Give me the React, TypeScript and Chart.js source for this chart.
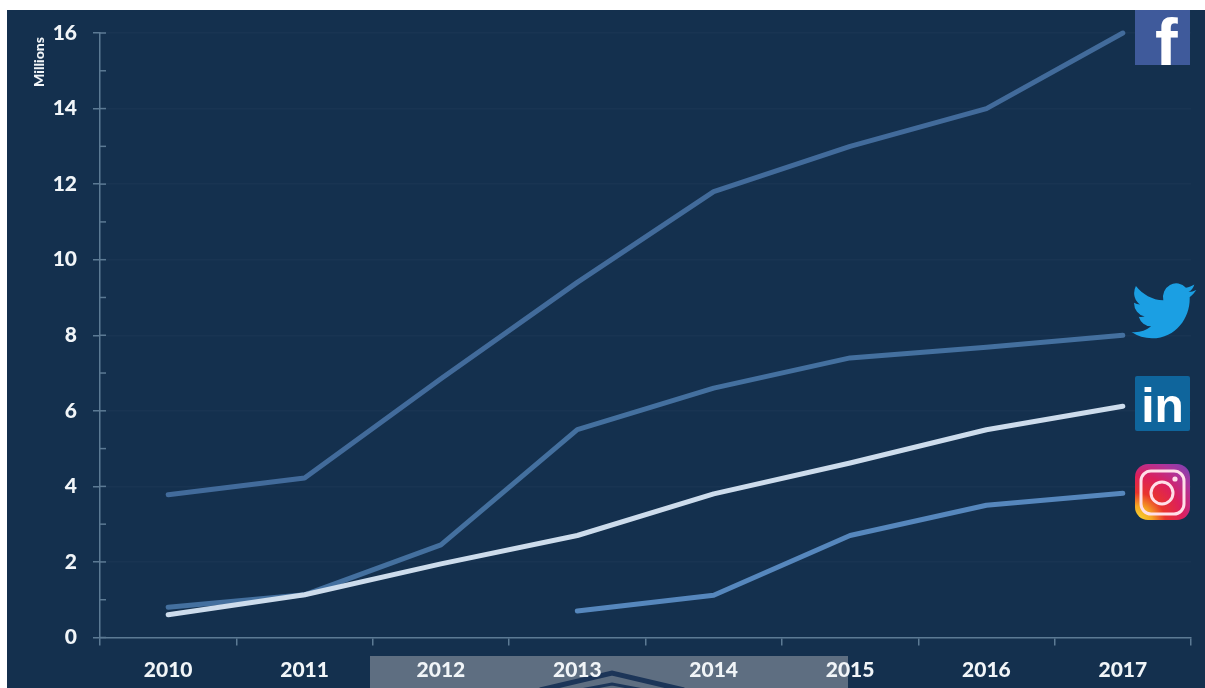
import React, { useEffect, useRef } from "react";
import { Chart, registerables } from "chart.js";

Chart.register(...registerables);

const years = ["2010", "2011", "2012", "2013", "2014", "2015", "2016", "2017"];
const facebook = [3.78, 4.22, 6.85, 9.4, 11.8, 13, 14, 16];
const twitter = [0.8, 1.13, 2.45, 5.5, 6.6, 7.4, 7.68, 8];
const linkedin = [0.6, 1.13, 1.95, 2.7, 3.8, 4.62, 5.5, 6.12];
const instagram = [null, null, null, 0.7, 1.12, 2.7, 3.5, 3.82];

const NAVY = "#14304e";
const AXIS = "#5c7a94";
const LABEL = "#f1f5f8";
const LABEL_FONT = "Lato";
const BIRD =
  "M23.953 4.57a10 10 0 01-2.825.775 4.958 4.958 0 002.163-2.723c-.951.555-2.005.959-3.127 1.184a4.92 4.92 0 00-8.384 4.482C7.69 8.095 4.067 6.13 1.64 3.162a4.822 4.822 0 00-.666 2.475c0 1.71.87 3.213 2.188 4.096a4.904 4.904 0 01-2.228-.616v.06a4.923 4.923 0 003.946 4.827 4.996 4.996 0 01-2.212.085 4.936 4.936 0 004.604 3.417 9.867 9.867 0 01-6.102 2.105c-.39 0-.779-.023-1.17-.067a13.995 13.995 0 007.557 2.209c9.053 0 13.998-7.496 13.998-13.985 0-.21 0-.42-.015-.63A9.935 9.935 0 0024 4.59z";

const CANVAS_X = 7;
const CANVAS_Y = 10;

function roundedRect(ctx: CanvasRenderingContext2D, x: number, y: number, w: number, h: number, r: number) {
  ctx.beginPath();
  ctx.roundRect(x, y, w, h, r);
}

// Backdrop: navy panel plus the lighter banner with chevrons along the bottom edge.
const backdrop = {
  id: "backdrop",
  beforeDraw(chart: Chart) {
    const ctx = chart.ctx;
    ctx.save();
    ctx.fillStyle = NAVY;
    ctx.fillRect(0, 0, chart.width, chart.height);
    ctx.translate(-CANVAS_X, -CANVAS_Y);
    ctx.fillStyle = "#5e6e81";
    ctx.fillRect(370, 656, 478, 32);
    ctx.strokeStyle = "#1c3558";
    ctx.lineWidth = 5;
    ctx.beginPath();
    ctx.moveTo(540, 690);
    ctx.lineTo(612, 673);
    ctx.lineTo(684, 690);
    ctx.stroke();
    ctx.lineWidth = 3;
    ctx.beginPath();
    ctx.moveTo(570, 692);
    ctx.lineTo(612, 684);
    ctx.lineTo(654, 692);
    ctx.stroke();
    ctx.restore();
  },
};

// Short tick stubs on the inner side of the value axis, and the unit caption beside it.
const valueAxisExtras = {
  id: "valueAxisExtras",
  afterDraw(chart: Chart) {
    const ctx = chart.ctx;
    const y = chart.scales.y;
    ctx.save();
    ctx.strokeStyle = AXIS;
    ctx.lineWidth = 1.5;
    y.ticks.forEach((t: { value: number }) => {
      const py = y.getPixelForValue(t.value);
      ctx.beginPath();
      ctx.moveTo(y.right, py);
      ctx.lineTo(y.right + 6, py);
      ctx.stroke();
    });
    ctx.translate(39.5 - CANVAS_X, 62 - CANVAS_Y);
    ctx.rotate(-Math.PI / 2);
    ctx.fillStyle = LABEL;
    ctx.font = `900 14px ${LABEL_FONT}`;
    ctx.textAlign = "center";
    ctx.textBaseline = "middle";
    ctx.fillText("Millions", 0, 0);
    ctx.restore();
  },
};

// Network logos at the right-hand end of each line.
const logos = {
  id: "logos",
  afterDraw(chart: Chart) {
    const ctx = chart.ctx;
    ctx.save();
    ctx.translate(-CANVAS_X, -CANVAS_Y);

    ctx.fillStyle = "#3f5a9b";
    ctx.fillRect(1135, 10, 55, 55);
    ctx.save();
    ctx.beginPath();
    ctx.rect(1135, 10, 55, 55);
    ctx.clip();
    ctx.fillStyle = "#ffffff";
    ctx.font = "bold 68px 'Liberation Sans'";
    ctx.textAlign = "left";
    ctx.textBaseline = "alphabetic";
    ctx.fillText("f", 1155, 67);
    ctx.restore();

    ctx.save();
    ctx.translate(1131.5, 277);
    ctx.scale(2.7, 2.82);
    ctx.fillStyle = "#1b9fe3";
    ctx.fill(new Path2D(BIRD));
    ctx.restore();

    ctx.fillStyle = "#0f659c";
    roundedRect(ctx, 1135, 376, 55, 55, 2);
    ctx.fill();
    ctx.fillStyle = "#ffffff";
    ctx.font = "bold 48px 'Liberation Sans'";
    ctx.textAlign = "center";
    ctx.fillText("in", 1162.5, 422);

    const glow = ctx.createRadialGradient(1136, 522, 3, 1136, 522, 76);
    glow.addColorStop(0, "#f8d632");
    glow.addColorStop(0.18, "#f5a623");
    glow.addColorStop(0.36, "#e9342c");
    glow.addColorStop(0.6, "#dc1f5c");
    glow.addColorStop(0.82, "#b0349a");
    glow.addColorStop(1, "#8040b0");
    ctx.fillStyle = glow;
    roundedRect(ctx, 1135, 464, 55, 56, 13);
    ctx.fill();
    ctx.strokeStyle = "#ffdfe8";
    ctx.lineWidth = 3;
    roundedRect(ctx, 1141, 471, 43, 43, 10);
    ctx.stroke();
    ctx.beginPath();
    ctx.arc(1162, 493, 11, 0, Math.PI * 2);
    ctx.stroke();
    ctx.fillStyle = "#ffdfe8";
    ctx.beginPath();
    ctx.arc(1175, 479, 2.6, 0, Math.PI * 2);
    ctx.fill();

    ctx.restore();
  },
};

function lineSet(label: string, data: (number | null)[], color: string, width: number) {
  return {
    label,
    data,
    borderColor: color,
    backgroundColor: color,
    borderWidth: width,
    borderCapStyle: "round" as const,
    borderJoinStyle: "round" as const,
    pointRadius: 0,
    tension: 0,
    spanGaps: false,
    clip: false,
  };
}

export default function App() {
  const canvasRef = useRef<HTMLCanvasElement>(null);

  useEffect(() => {
    const chart = new Chart(canvasRef.current!, {
      type: "line",
      data: {
        labels: years,
        datasets: [
          lineSet("LinkedIn", linkedin, "#cddcec", 5),
          lineSet("Instagram", instagram, "#5687bd", 5),
          lineSet("Twitter", twitter, "#44709f", 5),
          lineSet("Facebook", facebook, "#426b9b", 5),
        ],
      },
      options: {
        responsive: false,
        animation: false,
        layout: { padding: { top: 23, right: 14, left: 0, bottom: 0 } },
        plugins: { legend: { display: false }, tooltip: { enabled: false } },
        scales: {
          x: {
            offset: true,
            afterFit(scale: any) {
              scale.height = 50.5;
              scale.paddingLeft = 0;
              scale.paddingRight = 0;
            },
            border: { color: AXIS, width: 1.5 },
            grid: {
              offset: true,
              drawOnChartArea: false,
              color: AXIS,
              lineWidth: 1.5,
              tickLength: 8,
            },
            ticks: {
              color: LABEL,
              padding: 12,
              maxRotation: 0,
              font: { family: LABEL_FONT, size: 21, weight: "900" },
            },
          },
          y: {
            min: 0,
            max: 16,
            afterFit(scale: any) {
              scale.width = 93;
              scale.paddingTop = 0;
              scale.paddingBottom = 0;
            },
            border: { color: AXIS, width: 1.5 },
            grid: {
              color: (c: any) => (c.tick && c.tick.value % 2 === 0 ? "rgba(255,255,255,0.025)" : "rgba(0,0,0,0)"),
              tickColor: (c: any) => (c.tick && c.tick.value % 2 === 0 ? AXIS : "rgba(0,0,0,0)"),
              lineWidth: 1.5,
              tickLength: 7,
            },
            ticks: {
              stepSize: 1,
              autoSkip: false,
              color: LABEL,
              padding: 16,
              callback: (v: any) => (Number(v) % 2 === 0 ? String(v) : ""),
              font: { family: LABEL_FONT, size: 21, weight: "900" },
            },
          },
        },
      },
      plugins: [backdrop, valueAxisExtras, logos],
    } as any);
    return () => chart.destroy();
  }, []);

  return (
    <div style={{ position: "fixed", left: 0, top: 0, width: 1205, height: 688, background: "#ffffff", overflow: "hidden" }}>
      <canvas
        ref={canvasRef}
        width={1198}
        height={678}
        style={{ position: "absolute", left: CANVAS_X, top: CANVAS_Y, display: "block" }}
      />
    </div>
  );
}
